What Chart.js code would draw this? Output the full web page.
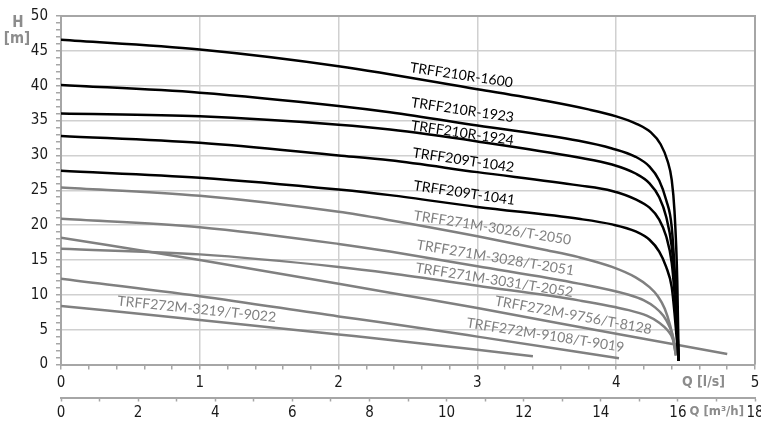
<!DOCTYPE html>
<html><head><meta charset="utf-8">
<script src="https://cdn.jsdelivr.net/npm/chart.js@4.4.0/dist/chart.umd.min.js"></script>
<style>html,body{margin:0;padding:0;background:#fff;}#wrap{width:761px;height:421px;}</style>
</head><body><div id="wrap"><canvas id="c" width="761" height="421"></canvas></div>
<script>
// ---- Data (Q in l/s, H in m) ----
const seriesNames = ['TRFF210R-1600','TRFF210R-1923','TRFF210R-1924','TRFF209T-1042','TRFF209T-1041',
  'TRFF271M-3026/T-2050','TRFF271M-3028/T-2051','TRFF271M-3031/T-2052','TRFF272M-9756/T-8128','TRFF272M-9108/T-9019','TRFF272M-3219/T-9022'];

const q1600 = [0, 1, 2, 3, 3.5, 3.8, 4.0, 4.15, 4.25, 4.32, 4.37, 4.40, 4.42, 4.44, 4.45];
const h1600 = [46.6, 45.2, 42.8, 39.5, 37.8, 36.6, 35.6, 34.5, 33.3, 31.6, 29.2, 26.5, 22.0, 12.0, 0.5];
const q1923 = [0, 1, 2, 2.37, 3, 3.73, 3.97, 4.14, 4.24, 4.31, 4.36, 4.40, 4.43, 4.45];
const h1923 = [40.1, 39.0, 37.1, 36.2, 34.3, 32.1, 31.0, 29.8, 28.4, 26.4, 23.6, 19.7, 10.2, 0.5];
const q1924 = [0, 1, 2, 2.37, 3, 3.73, 3.97, 4.14, 4.24, 4.31, 4.36, 4.40, 4.43, 4.45];
const h1924 = [36.0, 35.6, 34.4, 33.7, 32.0, 29.7, 28.7, 27.4, 26.0, 24.0, 21.2, 16.9, 10.0, 0.5];
const q1042 = [0, 1, 2, 2.37, 3, 3.73, 3.97, 4.14, 4.24, 4.31, 4.36, 4.40, 4.42, 4.45];
const h1042 = [32.8, 31.8, 30.0, 29.3, 27.6, 25.7, 24.9, 23.7, 22.5, 20.8, 18.4, 14.6, 10.2, 0.5];
const q1041 = [0, 1, 2, 2.37, 3, 3.73, 3.97, 4.14, 4.24, 4.31, 4.36, 4.40, 4.42, 4.45];
const h1041 = [27.8, 26.8, 25.1, 24.3, 22.6, 20.9, 20.1, 19.1, 17.9, 16.2, 14.0, 11.1, 7.4, 0.5];

const q2050 = [0, 1, 2, 2.37, 3, 3.5, 3.73, 3.97, 4.14, 4.24, 4.30, 4.35, 4.39, 4.42, 4.43];
const h2050 = [25.4, 24.2, 21.9, 20.7, 18.4, 16.4, 15.4, 14.0, 12.5, 11.1, 9.8, 8.0, 5.5, 2.8, 1.5];
const q2051 = [0, 1, 2, 2.37, 3, 3.73, 4.09, 4.20, 4.28, 4.34, 4.38, 4.41, 4.43];
const h2051 = [20.9, 19.7, 17.3, 16.2, 14.1, 11.6, 10.0, 9.2, 8.2, 7.0, 5.6, 3.9, 1.3];
const q2052 = [0, 1, 2, 2.37, 3, 3.73, 4.09, 4.22, 4.31, 4.37, 4.41, 4.43];
const h2052 = [16.6, 15.8, 14.0, 13.1, 11.3, 9.2, 7.8, 7.0, 6.0, 4.9, 3.5, 1.3];
const q8128 = [0, 1, 2, 2.37, 3, 4, 4.8];
const h8128 = [18.2, 15.0, 11.6, 10.3, 8.1, 4.4, 1.5];
const q9019 = [0, 1, 2, 2.29, 3, 4.02];
const h9019 = [12.3, 9.8, 6.9, 6.1, 4.0, 0.9];
const q9022 = [0, 1, 2, 2.29, 3, 3.4];
const h9022 = [8.4, 6.4, 4.3, 3.7, 2.1, 1.2];

const seriesQ = [q1600, q1923, q1924, q1042, q1041, q2050, q2051, q2052, q8128, q9019, q9022];
const seriesH = [h1600, h1923, h1924, h1042, h1041, h2050, h2051, h2052, h8128, h9019, h9022];
const isBlack = [true, true, true, true, true, false, false, false, false, false, false];

// curve label anchors (data coords) and rotation in degrees
const labelQ = [2.885, 2.892, 2.892, 2.899, 2.906, 3.108, 3.129, 3.122, 3.691, 3.489, 0.978];
const labelH = [41.5, 36.5, 33.2, 29.3, 24.6, 19.6, 15.3, 12.1, 7.07, 4.2, 7.93];
const labelAngle = [8.5, 8.5, 8.5, 8.5, 8.5, 9, 9.5, 9, 10.5, 9, 6];

const xTicksLs = [0, 1, 2, 3, 4, 5];
const xTicksM3h = [0, 2, 4, 6, 8, 10, 12, 14, 16, 18];
const yTicks = [0, 5, 10, 15, 20, 25, 30, 35, 40, 45, 50];

// ---- Styles ----
const BLACK = '#000000', GRAY = '#808080', GRID = '#d0d0d0', AXIS = '#a6a6a6';
const TICKF = "'Liberation Sans Narrow','DejaVu Sans Condensed','Liberation Sans',sans-serif";
const LABF = "Lato, 'Open Sans', sans-serif";
const near = (v, arr) => arr.some(a => Math.abs(a - v) < 1e-6);

const datasets = seriesQ.map((qs, i) => ({
  label: seriesNames[i],
  data: qs.map((q, j) => ({x: q, y: seriesH[i][j]})),
  borderColor: isBlack[i] ? BLACK : GRAY,
  borderWidth: 2.5,
  pointRadius: 0,
  fill: false,
  cubicInterpolationMode: 'monotone',
  xAxisID: 'x', yAxisID: 'y'
}));

const decor = {
  id: 'decor',
  afterDatasetsDraw(chart) {
    const {ctx, chartArea: a, scales} = chart;
    ctx.save();
    ctx.strokeStyle = AXIS; ctx.lineWidth = 2;
    ctx.beginPath(); ctx.moveTo(a.left, a.top); ctx.lineTo(a.right, a.top); ctx.lineTo(a.right, a.bottom); ctx.stroke();
    ctx.font = "14px " + LABF;
    ctx.textAlign = 'center'; ctx.textBaseline = 'middle';
    seriesNames.forEach((n, i) => {
      const px = scales.x.getPixelForValue(labelQ[i]);
      const py = scales.y.getPixelForValue(labelH[i]);
      ctx.save();
      ctx.translate(px, py);
      ctx.rotate(labelAngle[i] * Math.PI / 180);
      ctx.fillStyle = isBlack[i] ? BLACK : GRAY;
      ctx.fillText(n, 0, 0);
      ctx.restore();
    });
    ctx.fillStyle = '#8c8c8c';
    ctx.font = "bold 15px " + TICKF;
    ctx.textAlign = 'center';
    ctx.fillText('H', 18, 23);
    ctx.fillText('[m]', 17, 39);
    ctx.font = "bold 14px " + TICKF;
    ctx.textAlign = 'left';
    ctx.fillText('Q [l/s]', 682, 382);
    ctx.font = "bold 13px " + TICKF;
    ctx.textAlign = 'right';
    ctx.fillText('Q [m³/h]', 744, 412);
    ctx.restore();
  }
};

new Chart(document.getElementById('c'), {
  type: 'line',
  data: {datasets},
  options: {
    responsive: false, animation: false, devicePixelRatio: 1,
    layout: {padding: {left: 0, right: 6, top: 16, bottom: 0}},
    plugins: {legend: {display: false}, tooltip: {enabled: false}, title: {display: false}},
    scales: {
      x: {
        type: 'linear', position: 'bottom', weight: 0, min: 0, max: 5,
        ticks: {stepSize: 0.2, autoSkip: false, maxRotation: 0, padding: 5, color: '#1a1a1a',
          font: {family: TICKF, size: 15},
          callback: v => near(v, xTicksLs) ? String(Math.round(v)) : ''},
        grid: {color: c => (c.tick && near(c.tick.value, xTicksLs)) ? GRID : 'rgba(0,0,0,0)',
          lineWidth: 1.5, tickColor: AXIS, tickLength: 5, tickWidth: 1.5},
        border: {color: AXIS, width: 2},
        afterFit(s) { s.height = 33; s.paddingLeft = 0; s.paddingRight = 0; }
      },
      x2: {
        type: 'linear', position: 'bottom', weight: 1, min: 0, max: 18,
        ticks: {stepSize: 1, autoSkip: false, maxRotation: 0, padding: 3, color: '#1a1a1a',
          font: {family: TICKF, size: 15},
          callback: v => near(v, xTicksM3h) ? String(Math.round(v)) : ''},
        grid: {drawOnChartArea: false, tickColor: AXIS, tickLength: 4, tickWidth: 1.5},
        border: {color: AXIS, width: 2},
        afterFit(s) { s.height = 23.5; s.paddingLeft = 0; s.paddingRight = 0; }
      },
      y: {
        type: 'linear', min: 0, max: 50,
        ticks: {stepSize: 1, autoSkip: false, padding: 8, color: '#1a1a1a',
          font: {family: TICKF, size: 15},
          callback: v => near(v, yTicks) ? String(Math.round(v)) : ''},
        grid: {color: c => (c.tick && near(c.tick.value, yTicks)) ? GRID : 'rgba(0,0,0,0)',
          lineWidth: 1.5, tickColor: AXIS, tickLength: 5, tickWidth: 1.5},
        border: {color: AXIS, width: 2},
        afterFit(s) { s.width = 61; s.paddingTop = 0; s.paddingBottom = 0; }
      }
    }
  },
  plugins: [decor]
});
</script></body></html>
